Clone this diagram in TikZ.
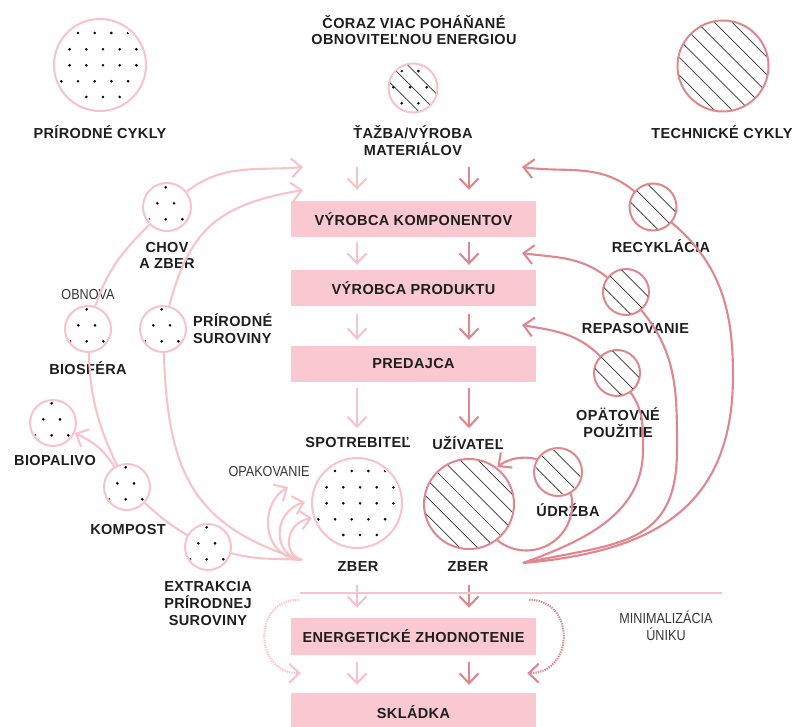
\documentclass[tikz,border=0pt]{standalone}
\usepackage{fontspec}
\setmainfont{Liberation Sans}[LetterSpace=2.5]
\newfontfamily\narrowfont{Liberation Sans}[FakeStretch=0.87]
\usetikzlibrary{arrows.meta,positioning,calc}

\definecolor{natpink}{HTML}{F7C3CB}
\definecolor{techpink}{HTML}{E0868D}
\definecolor{stagepink}{HTML}{F9C8D1}
\definecolor{inkgray}{HTML}{1E1E1E}
\definecolor{notegray}{HTML}{363636}

\newcommand\lblfont{\fontsize{14.5}{16.8}\selectfont\bfseries}
\newcommand\notefont{\fontsize{14.5}{17}\selectfont\narrowfont}

% diagonal hatching inside a ring
\newcommand\hatchring[2]{%
  \begin{scope}[shift={(#1)}]
    \clip (0,0) circle (#2);
    \foreach \k in {-5,...,5}
      \draw[hatchline] ({\k*8.8-70},{\k*8.8+70}) -- ++(140,-140);
  \end{scope}}

% dot grid inside a ring
\newcommand\dotsring[3]{%
  \begin{scope}[shift={(#1)}]
    \clip (0,0) circle (#2);
    \foreach \yy/\xx in {#3}
      \foreach \c in {-3,...,3}
        \fill[black] ({\c*16.7+\xx},\yy) circle (1.45);
  \end{scope}}

\begin{document}
\begin{tikzpicture}[x=1pt, y=1pt,
  natring/.style={circle, draw=natpink, line width=2pt, fill=white, inner sep=0pt, minimum size=46pt},
  techring/.style={natring, draw=techpink},
  stage/.style={rectangle, fill=stagepink, inner sep=0pt, minimum width=245pt, minimum height=36pt, font=\lblfont, text=inkgray},
  lbl/.style={font=\lblfont, text=inkgray, align=center, inner sep=0pt},
  note/.style={font=\notefont, text=notegray, align=center, inner sep=0pt},
  natline/.style={draw=natpink, line width=2.1pt},
  techline/.style={draw=techpink, line width=2.1pt},
  natflow/.style={natline, -{Straight Barb[length=10pt, width=19pt]}},
  techflow/.style={techline, -{Straight Barb[length=10pt, width=19pt]}},
  dotflow/.style={dash pattern=on 1.3pt off 1.1pt},
  hatchline/.style={draw=black!80, line width=0.7pt}]

  \useasboundingbox (0,0) rectangle (794,-727);

  % Define coordinates for nodes
  \node[natring, minimum size=92pt] (natcyc) at (100,-65) {};
  \node[natring, minimum size=49pt] (mining) at (413,-88) {};
  \node[techring, minimum size=91pt] (techcyc) at (723,-66) {};
  \node[natring, minimum size=48pt] (breed) at (167,-207) {};
  \node[natring] (biosph) at (88,-329) {};
  \node[natring] (rawmat) at (163,-329) {};
  \node[natring] (biofuel) at (53,-423) {};
  \node[natring] (compost) at (127,-487) {};
  \node[natring] (extract) at (208,-547) {};
  \node[natring, minimum size=90pt] (consumer) at (357,-503) {};
  \node[techring, minimum size=90pt] (user) at (469,-504) {};
  \node[techring, minimum size=48pt] (maint) at (558,-472) {};
  \node[techring, minimum size=47pt] (recycle) at (653,-207) {};
  \node[techring] (refurb) at (626,-292) {};
  \node[techring] (reuse) at (617,-373) {};

  \node[stage] (components) at (413.5,-219) {VÝROBCA KOMPONENTOV};
  \node[stage] (product) at (413.5,-288) {VÝROBCA PRODUKTU};
  \node[stage] (retailer) at (413.5,-364) {PREDAJCA};
  \node[stage, minimum height=37pt] (energy) at (413.5,-636.5) {ENERGETICKÉ ZHODNOTENIE};
  \node[stage, minimum height=38pt] (landfill) at (413.5,-712) {SKLÁDKA};

  \node[lbl] (title) at (414,-30) {ČORAZ VIAC POHÁŇANÉ\\OBNOVITEĽNOU ENERGIOU};
  \node[lbl] (natcycLbl) at (100,-132) {PRÍRODNÉ CYKLY};
  \node[lbl] (miningLbl) at (413,-140.5) {ŤAŽBA/VÝROBA\\MATERIÁLOV};
  \node[lbl] (techcycLbl) at (722,-132) {TECHNICKÉ CYKLY};
  \node[lbl] (breedLbl) at (167,-255.5) {CHOV\\A ZBER};
  \node[note] (renewLbl) at (88,-295) {OBNOVA};
  \node[lbl] (biosphLbl) at (88,-368) {BIOSFÉRA};
  \node[lbl, align=left, anchor=west] (rawmatLbl) at (193,-328.5) {PRÍRODNÉ\\SUROVINY};
  \node[lbl] (biofuelLbl) at (55,-461) {BIOPALIVO};
  \node[lbl] (compostLbl) at (128,-530) {KOMPOST};
  \node[lbl] (extractLbl) at (208,-603.5) {EXTRAKCIA\\PRÍRODNEJ\\SUROVINY};
  \node[note] (repeatLbl) at (269,-472) {OPAKOVANIE};
  \node[lbl] (consumerLbl) at (358,-443) {SPOTREBITEĽ};
  \node[lbl] (userLbl) at (468,-443) {UŽÍVATEĽ};
  \node[lbl] (zberNat) at (358,-567) {ZBER};
  \node[lbl] (zberTech) at (468,-567) {ZBER};
  \node[lbl] (maintLbl) at (568,-510) {ÚDRŽBA};
  \node[lbl] (recycleLbl) at (661,-246) {RECYKLÁCIA};
  \node[lbl] (refurbLbl) at (635.5,-329) {REPASOVANIE};
  \node[lbl] (reuseLbl) at (618,-423) {OPÄTOVNÉ\\POUŽITIE};
  \node[note] (leakLbl) at (666,-625.5) {MINIMALIZÁCIA\\ÚNIKU};

  % loose ends and bends of the cycles
  \coordinate (natjoin) at (302,-560);
  \coordinate (natin1) at (303,-167);
  \coordinate (natin2) at (303,-190);
  \coordinate (techjoin) at (523,-563);
  \coordinate (techin1) at (522,-167);
  \coordinate (techin2) at (522,-253);
  \coordinate (techin3) at (522,-325);
  \coordinate (recbend) at (733,-375);
  \coordinate (refbend) at (677,-450);
  \coordinate (reubend) at (643,-450);
  \coordinate (rep1) at (288,-487);
  \coordinate (rep2) at (305,-502);
  \coordinate (rep3) at (312,-518);

  % fillings of the rings
  \dotsring{natcyc}{43}{32/-5.3, 15.7/-13.7, -0.3/-13.7, -16.3/-5.3, -32/-13.7}
  \dotsring{consumer}{43}{32/-5.3, 15.7/-13.7, -0.3/-13.7, -16.3/-5.3, -32/-13.7}
  \foreach \n in {breed, biosph, rawmat, biofuel, compost, extract}
    {\dotsring{\n}{21.5}{19.7/-1.35, 3.7/-9.7, -12.3/-1.35}}
  \hatchring{mining}{23.5}
  \dotsring{mining}{21}{17/-11.3, 0.7/-3, -15.3/-11.3}
  \hatchring{techcyc}{44.5}
  \hatchring{user}{44}
  \foreach \n in {maint, recycle, refurb, reuse}
    {\hatchring{\n}{22.5}}

  % Draw arrows between nodes
  \draw[natflow] ([xshift=-56.5pt,yshift=34pt]components.north) -- ([xshift=-56.5pt,yshift=11pt]components.north);
  \draw[techflow] ([xshift=55.5pt,yshift=34pt]components.north) -- ([xshift=55.5pt,yshift=11pt]components.north);
  \draw[natflow] ([xshift=-56.5pt,yshift=-5pt]components.south) -- ([xshift=-56.5pt,yshift=5pt]product.north);
  \draw[techflow] ([xshift=55.5pt,yshift=-5pt]components.south) -- ([xshift=55.5pt,yshift=5pt]product.north);
  \draw[natflow] ([xshift=-56.5pt,yshift=-8pt]product.south) -- ([xshift=-56.5pt,yshift=6pt]retailer.north);
  \draw[techflow] ([xshift=55.5pt,yshift=-8pt]product.south) -- ([xshift=55.5pt,yshift=6pt]retailer.north);
  \draw[natflow] ([xshift=-56.5pt,yshift=-6pt]retailer.south) -- ([xshift=-56.5pt,yshift=-46pt]retailer.south);
  \draw[techflow] ([xshift=55.5pt,yshift=-6pt]retailer.south) -- ([xshift=55.5pt,yshift=-46pt]retailer.south);
  \draw[natflow] ([xshift=-56.5pt,yshift=33pt]energy.north) -- ([xshift=-56.5pt,yshift=10pt]energy.north);
  \draw[techflow] ([xshift=55.5pt,yshift=33pt]energy.north) -- ([xshift=55.5pt,yshift=10pt]energy.north);
  \draw[natflow] ([xshift=-56.5pt,yshift=-7pt]energy.south) -- ([xshift=-56.5pt,yshift=8pt]landfill.north);
  \draw[techflow] ([xshift=55.5pt,yshift=-7pt]energy.south) -- ([xshift=55.5pt,yshift=8pt]landfill.north);

  \draw[natpink, line width=1.6pt] (300,-593) -- (722,-593);
  \draw[natflow, dotflow] ([xshift=8pt,yshift=18pt]energy.north west) .. controls +(-47,0) and +(-47,0) .. ([xshift=10pt,yshift=-18pt]energy.south west);
  \draw[techflow, dotflow] ([xshift=-7pt,yshift=18pt]energy.north east) .. controls +(47,0) and +(47,0) .. ([xshift=-9pt,yshift=-18pt]energy.south east);

  % natural cycle
  \draw[natline] (natjoin) to[out=176,in=-15] (extract);
  \draw[natline] (extract) to[out=150,in=-42] (compost);
  \draw[natline] (compost) to[out=115,in=-88] (biosph);
  \draw[natline] (biosph) to[out=72,in=225] (breed);
  \draw[natflow] (breed) to[out=38,in=185] (natin1);
  \draw[natflow] (compost) to[out=122,in=-25] (biofuel);
  \draw[natline] (natjoin) to[out=163,in=-88,looseness=1.2] (rawmat);
  \draw[natflow] (rawmat) to[out=75,in=190,looseness=1.2] (natin2);
  \draw[natflow] (natjoin) .. controls +(-40,2) and +(-30,-18) .. (rep1);
  \draw[natflow] (natjoin) .. controls +(-30,4) and +(-33,-10) .. (rep2);
  \draw[natflow] (natjoin) .. controls +(-20,6) and +(-27,-5) .. (rep3);

  % technical cycle
  \draw[techline] (techjoin) to[out=5,in=-90,looseness=1.2] (recbend) to[out=90,in=-40] (recycle);
  \draw[techflow] (recycle) to[out=140,in=-8] (techin1);
  \draw[techline] (techjoin) to[out=12,in=-90,looseness=1.3] (refbend) to[out=90,in=-50] (refurb);
  \draw[techflow] (refurb) to[out=142,in=-8] (techin2);
  \draw[techline] (techjoin) to[out=20,in=-90] (reubend) to[out=90,in=-55] (reuse);
  \draw[techflow] (reuse) to[out=135,in=-10] (techin3);
  \draw[techline] (user.-52) arc[start angle=-129, end angle=14.5, radius=46];
  \draw[techflow] (maint.149) arc[start angle=75.5, end angle=127, radius=46];
\end{tikzpicture}
\end{document}
